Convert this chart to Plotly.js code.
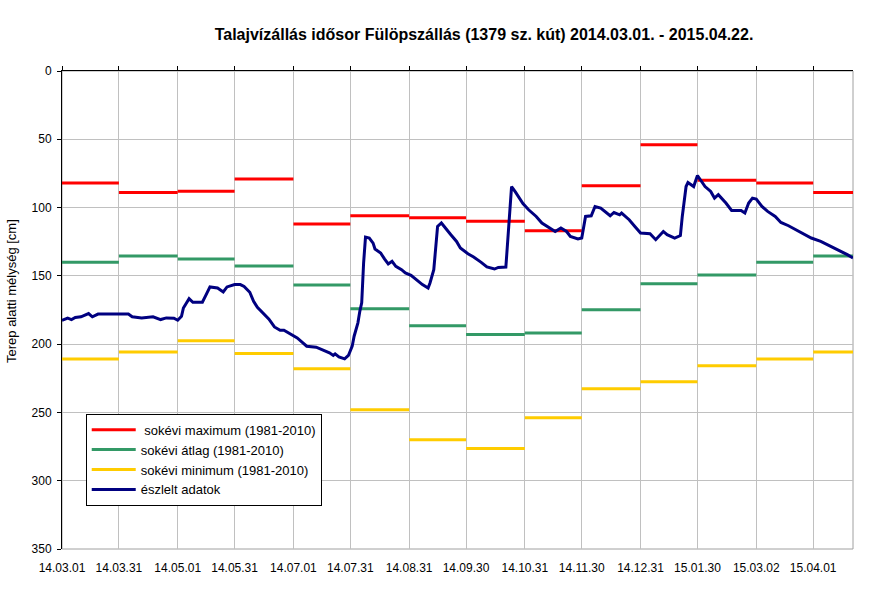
<!DOCTYPE html>
<html>
<head>
<meta charset="utf-8">
<script src="https://cdn.plot.ly/plotly-3.0.1.min.js"></script>
<style>html,body{margin:0;padding:0;background:#fff;}#chart{width:876px;height:598px;}</style>
</head>
<body>
<div id="chart"></div>
<script>
// Month boundaries (segment edges) = tick dates + end of period
const boundaries = ['2014-03-01','2014-03-31','2014-05-01','2014-05-31','2014-07-01','2014-07-31','2014-08-31',
  '2014-09-30','2014-10-31','2014-11-30','2014-12-31','2015-01-30','2015-03-02','2015-04-01','2015-04-22'];
const tickDates = boundaries.slice(0, 14);
const tickLabels = ['14.03.01','14.03.31','14.05.01','14.05.31','14.07.01','14.07.31','14.08.31',
  '14.09.30','14.10.31','14.11.30','14.12.31','15.01.30','15.03.02','15.04.01'];
const yTicks = [0, 50, 100, 150, 200, 250, 300, 350];

// Long-term monthly statistics (1981-2010), one per segment (Mar 2014 ... Apr 2015)
const maxVals = [82, 89, 88, 79, 112, 106, 107.5, 110, 117, 84, 54, 80, 82, 89];
const avgVals = [140, 135.5, 137.7, 142.8, 156.7, 174, 186.6, 193, 191.8, 174.9, 155.7, 149.4, 140, 135.5];
const minVals = [210.8, 205.7, 197.6, 206.9, 218.1, 248, 270, 276.5, 253.9, 232.7, 227.6, 215.9, 210.8, 205.7];

// Observed groundwater level
const obsDates = ['2014-03-01','2014-03-04','2014-03-06','2014-03-08','2014-03-11','2014-03-15','2014-03-17','2014-03-20',
 '2014-03-29','2014-04-01','2014-04-05','2014-04-07','2014-04-12','2014-04-18','2014-04-22','2014-04-25','2014-04-29',
 '2014-05-01','2014-05-03','2014-05-04','2014-05-06','2014-05-07','2014-05-09','2014-05-14','2014-05-16','2014-05-18',
 '2014-05-22','2014-05-25','2014-05-27','2014-05-31','2014-06-03','2014-06-05','2014-06-08','2014-06-10','2014-06-12',
 '2014-06-15','2014-06-18','2014-06-21','2014-06-24','2014-06-26','2014-07-01','2014-07-03','2014-07-06','2014-07-08',
 '2014-07-13','2014-07-16','2014-07-20','2014-07-22','2014-07-23','2014-07-25','2014-07-28','2014-07-30','2014-08-01',
 '2014-08-02','2014-08-03','2014-08-04','2014-08-05','2014-08-06','2014-08-07','2014-08-08','2014-08-10','2014-08-12',
 '2014-08-13','2014-08-16','2014-08-18','2014-08-20','2014-08-22','2014-08-24','2014-08-27','2014-08-29','2014-09-01',
 '2014-09-04','2014-09-07','2014-09-10','2014-09-11','2014-09-13','2014-09-14','2014-09-15','2014-09-17','2014-09-19',
 '2014-09-22','2014-09-25','2014-09-27','2014-10-01','2014-10-04','2014-10-08','2014-10-11','2014-10-15','2014-10-17',
 '2014-10-21','2014-10-22','2014-10-23','2014-10-24','2014-10-26','2014-10-28','2014-10-30','2014-11-02','2014-11-06',
 '2014-11-09','2014-11-14','2014-11-16','2014-11-19','2014-11-22','2014-11-24','2014-11-28','2014-11-30','2014-12-01',
 '2014-12-02','2014-12-05','2014-12-07','2014-12-10','2014-12-13','2014-12-15','2014-12-17','2014-12-20','2014-12-21',
 '2014-12-25','2014-12-28','2014-12-31','2015-01-05','2015-01-08','2015-01-12','2015-01-14','2015-01-18','2015-01-21',
 '2015-01-22','2015-01-24','2015-01-25','2015-01-28','2015-01-30','2015-02-01','2015-02-03','2015-02-06','2015-02-08',
 '2015-02-10','2015-02-14','2015-02-17','2015-02-20','2015-02-22','2015-02-24','2015-02-26','2015-02-28','2015-03-02',
 '2015-03-05','2015-03-08','2015-03-12','2015-03-15','2015-03-19','2015-03-23','2015-03-27','2015-03-31','2015-04-05',
 '2015-04-11','2015-04-16','2015-04-19','2015-04-22'];
const obsVals = [182.5,181,182,180.5,180,177.6,180,178,
 178,178,178,180,180.8,180,182,180.8,181,
 182.5,179.6,173.5,168.6,166.7,169.3,169.3,163.7,158.1,
 158.9,161.8,158.1,156.4,156.4,157.7,162,168.6,173,
 177.1,181.5,187.4,189.8,189.8,193.5,195.4,199,201.5,
 202.2,204,206.4,208.3,207.1,209.3,210.8,208.3,201.5,
 194.2,189,184.4,176,169.8,140.6,121.6,122.3,126,
 130.3,133.3,137.6,141.3,139.4,143,145.5,147.9,149.6,
 152.8,156.4,158.9,155.2,145.5,130.8,113.8,111.3,115,
 119.9,124.8,129.6,133.8,136.2,140.1,143.5,145,143.8,
 143.5,123.5,100,84.6,88.5,93,97,101.6,106.5,
 111.3,115.7,117.5,115,117.5,121.1,123,122.3,113.8,
 106.5,106,99.2,100.4,103.6,106,103.6,105.3,104,
 108.9,113.8,118.6,119.2,123.5,117.5,119.9,122.3,120.5,
 106.5,84.6,81.6,84.6,76.5,80.9,84.6,88.2,93.1,
 90.6,96.7,102.1,102.1,102.1,104,96.7,93.1,93.8,
 99.2,102.8,106.5,110.9,113.3,116.2,119.2,122.3,124.8,
 128.9,132.1,134.5,136.9];

function stepSegments(vals) {
  const x = [], y = [];
  vals.forEach((v, i) => {
    x.push(boundaries[i], boundaries[i + 1], null);
    y.push(v, v, null);
  });
  return {x, y};
}

const sMax = stepSegments(maxVals), sAvg = stepSegments(avgVals), sMin = stepSegments(minVals);
const NB = '\u00a0';
const traces = [
  {x: sMax.x, y: sMax.y, type: 'scatter', mode: 'lines', name: NB + 'sokévi maximum (1981-2010)',
   line: {color: '#ff0000', width: 3}, connectgaps: false},
  {x: sAvg.x, y: sAvg.y, type: 'scatter', mode: 'lines', name: 'sokévi átlag (1981-2010)',
   line: {color: '#339966', width: 3}, connectgaps: false},
  {x: sMin.x, y: sMin.y, type: 'scatter', mode: 'lines', name: 'sokévi minimum (1981-2010)',
   line: {color: '#ffcc00', width: 3}, connectgaps: false},
  {x: obsDates, y: obsVals, type: 'scatter', mode: 'lines', name: 'észlelt adatok',
   line: {color: '#000080', width: 3}},
  {x: [boundaries[0]], y: [null], xaxis: 'x2', type: 'scatter', mode: 'lines', showlegend: false, hoverinfo: 'skip'}
];

const FONT = 'Arial, "Liberation Sans", sans-serif';
const layout = {
  width: 876, height: 598,
  margin: {l: 62, r: 23, t: 71, b: 49},
  paper_bgcolor: '#ffffff', plot_bgcolor: '#ffffff',
  font: {family: FONT, size: 12, color: '#000'},
  title: {text: '<b>Talajvízállás idősor Fülöpszállás (1379 sz. kút) 2014.03.01. - 2015.04.22.</b>',
    font: {family: FONT, size: 16, color: '#000'},
    x: 484 / 876, xref: 'container', xanchor: 'center', y: 1 - 34 / 598, yref: 'container', yanchor: 'middle'},
  showlegend: true,
  legend: {x: 0.030, y: 0.283, xanchor: 'left', yanchor: 'top', bgcolor: '#fff', bordercolor: '#000', borderwidth: 1,
    font: {family: FONT, size: 13, color: '#000'}, tracegroupgap: 0, itemwidth: 44},
  xaxis: {type: 'date', range: [boundaries[0], boundaries[14]], tickvals: tickDates, ticktext: tickLabels,
    showgrid: true, gridcolor: '#c0c0c0', gridwidth: 1, showline: false, ticks: '', zeroline: false,
    tickfont: {family: FONT, size: 12, color: '#000'}, ticklabelstandoff: 10},
  xaxis2: {type: 'date', overlaying: 'x', matches: 'x', side: 'top', range: [boundaries[0], boundaries[14]],
    tickvals: tickDates, showticklabels: false, showgrid: false, showline: true, linecolor: '#000', linewidth: 1,
    ticks: 'outside', ticklen: 4, tickcolor: '#000', zeroline: false},
  yaxis: {range: [350, 0], tickvals: yTicks, showgrid: true, gridcolor: '#c0c0c0',
    showline: true, linecolor: '#000', linewidth: 1, ticks: 'outside', ticklen: 4, tickcolor: '#000', zeroline: false,
    tickfont: {family: FONT, size: 12, color: '#000'}, ticklabelstandoff: 3},
  annotations: [{text: 'Terep alatti mélység [cm]', textangle: -90, xref: 'paper', yref: 'paper',
    x: -51 / 791, y: (549 - 291) / 478, xanchor: 'center', yanchor: 'middle', showarrow: false,
    font: {family: FONT, size: 13, color: '#000'}}],
  shapes: [{type: 'rect', xref: 'paper', yref: 'paper', x0: 0, x1: 1, y0: 0, y1: 1,
    line: {color: '#a0a0a0', width: 1}, layer: 'below'}]
};

Plotly.newPlot('chart', traces, layout, {displayModeBar: false, staticPlot: true});
</script>
</body>
</html>
